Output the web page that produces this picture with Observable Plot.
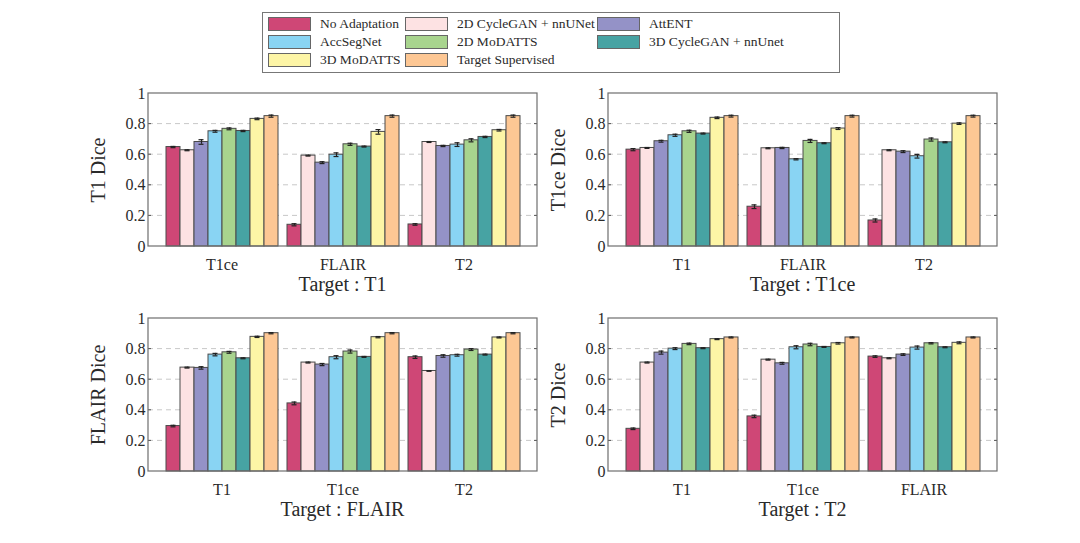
<!DOCTYPE html>
<html>
<head>
<meta charset="utf-8">
<script src="https://cdn.jsdelivr.net/npm/d3@7"></script>
<script src="https://cdn.jsdelivr.net/npm/@observablehq/plot@0.6"></script>
<style>
  html, body { margin: 0; padding: 0; background: #fff; }
  #root { position: relative; width: 1080px; height: 543px; overflow: hidden; font-family: "Liberation Serif", "DejaVu Serif", serif; color: #2a2a2a; }
  .panel { position: absolute; }
  .panel svg { display: block; }
  .panel svg g, .panel svg text { font-family: "Liberation Serif", serif !important; font-size: 16px !important; font-variant: normal !important; }
  .ylab { position: absolute; font-size: 20px; white-space: nowrap; transform: translate(-50%, -50%) rotate(-90deg); }
  .xlab { position: absolute; font-size: 20px; white-space: nowrap; transform: translate(-50%, -50%); }
  #legend { position: absolute; left: 262px; top: 12px; width: 576px; height: 59px; border: 1px solid #777; box-sizing: content-box; font-family: "Liberation Serif", serif; }
  .lg-item { position: absolute; display: flex; align-items: center; font-size: 13.5px; white-space: nowrap; font-family: "Liberation Serif", serif; }
  .lg-sw { width: 41px; height: 12px; border: 1px solid #666; margin-right: 9px; }
</style>
</head>
<body>
<div id="root"></div>
<script>
// ---- data ----
const methods = ["No Adaptation", "2D CycleGAN + nnUNet", "AttENT", "AccSegNet", "2D MoDATTS", "3D CycleGAN + nnUnet", "3D MoDATTS", "Target Supervised"];
const colors = ["#cf4776", "#fde2e3", "#9492c7", "#89d4f3", "#a8d48e", "#47a3a3", "#fdf5a6", "#fdc794"];
const yTicks = [0, 0.2, 0.4, 0.6, 0.8, 1];
const gridTicks = [0.2, 0.4, 0.6, 0.8];

// Target : T1
const t1Sources = ["T1ce", "FLAIR", "T2"];
const t1Values = [
  [0.650, 0.629, 0.683, 0.753, 0.769, 0.755, 0.834, 0.852],
  [0.142, 0.594, 0.548, 0.600, 0.668, 0.653, 0.749, 0.852],
  [0.144, 0.683, 0.657, 0.666, 0.694, 0.716, 0.760, 0.852]
];
const t1Errors = [
  [0.004, 0.003, 0.015, 0.006, 0.006, 0.004, 0.005, 0.007],
  [0.007, 0.003, 0.006, 0.012, 0.007, 0.003, 0.015, 0.007],
  [0.005, 0.003, 0.004, 0.012, 0.010, 0.004, 0.005, 0.007]
];

// Target : T1ce
const t1ceSources = ["T1", "FLAIR", "T2"];
const t1ceValues = [
  [0.633, 0.644, 0.688, 0.727, 0.753, 0.738, 0.841, 0.852],
  [0.260, 0.642, 0.644, 0.570, 0.690, 0.675, 0.771, 0.852],
  [0.170, 0.629, 0.620, 0.590, 0.699, 0.681, 0.803, 0.852]
];
const t1ceErrors = [
  [0.007, 0.003, 0.006, 0.007, 0.007, 0.003, 0.005, 0.006],
  [0.012, 0.003, 0.004, 0.004, 0.010, 0.003, 0.006, 0.006],
  [0.010, 0.003, 0.006, 0.012, 0.010, 0.003, 0.005, 0.006]
];

// Target : FLAIR
const flairSources = ["T1", "T1ce", "T2"];
const flairValues = [
  [0.297, 0.679, 0.677, 0.764, 0.779, 0.740, 0.880, 0.904],
  [0.445, 0.712, 0.699, 0.747, 0.784, 0.749, 0.878, 0.904],
  [0.747, 0.657, 0.755, 0.760, 0.797, 0.764, 0.876, 0.904]
];
const flairErrors = [
  [0.005, 0.003, 0.008, 0.008, 0.006, 0.003, 0.004, 0.004],
  [0.009, 0.003, 0.007, 0.010, 0.010, 0.003, 0.004, 0.004],
  [0.008, 0.002, 0.008, 0.006, 0.006, 0.003, 0.003, 0.004]
];

// Target : T2
const t2Sources = ["T1", "T1ce", "FLAIR"];
const t2Values = [
  [0.279, 0.712, 0.777, 0.803, 0.834, 0.806, 0.865, 0.876],
  [0.360, 0.731, 0.707, 0.812, 0.830, 0.814, 0.838, 0.876],
  [0.751, 0.740, 0.764, 0.810, 0.838, 0.812, 0.841, 0.876]
];
const t2Errors = [
  [0.005, 0.003, 0.010, 0.006, 0.005, 0.003, 0.003, 0.003],
  [0.008, 0.003, 0.006, 0.010, 0.008, 0.003, 0.005, 0.003],
  [0.005, 0.003, 0.005, 0.010, 0.004, 0.003, 0.006, 0.003]
];

const panels = [
  {target: "T1", sources: t1Sources, values: t1Values, errors: t1Errors, ylabel: "T1 Dice", left: 60, top: 80},
  {target: "T1ce", sources: t1ceSources, values: t1ceValues, errors: t1ceErrors, ylabel: "T1ce Dice", left: 520, top: 80},
  {target: "FLAIR", sources: flairSources, values: flairValues, errors: flairErrors, ylabel: "FLAIR Dice", left: 60, top: 305},
  {target: "T2", sources: t2Sources, values: t2Values, errors: t2Errors, ylabel: "T2 Dice", left: 520, top: 305}
];

// ---- layout ----
const ML = 88, MR = 8, MT = 13, MB = 30;
const PW = 389, PH = 153;
const W = ML + PW + MR, H = MT + PH + MB;
const PAD_OUTER = 0.13, PAD_INNER = 0.066;
// distance from frame edge to first facet, used for the y tick label padding
const outerPx = PW / (3 - PAD_INNER + 2 * PAD_OUTER) * PAD_OUTER;

const root = document.getElementById("root");

for (const p of panels) {
  const data = p.sources.flatMap((s, i) => methods.map((m, j) => ({
    source: s, method: m, value: p.values[i][j], err: p.errors[i][j]
  })));
  const plot = Plot.plot({
    width: W, height: H,
    marginLeft: ML, marginRight: MR, marginTop: MT, marginBottom: MB,
    style: {fontFamily: "'Liberation Serif', serif", fontSize: "16px", color: "#2a2a2a", background: "transparent", overflow: "visible"},
    fx: {domain: p.sources, paddingInner: PAD_INNER, paddingOuter: PAD_OUTER, axis: "bottom", label: null, tickSize: 0, tickPadding: 12},
    x: {domain: methods, padding: 0, axis: null},
    y: {domain: [0, 1], ticks: yTicks, tickFormat: d => String(d), tickSize: 0, tickPadding: Math.round(outerPx + 4), label: null},
    color: {domain: methods, range: colors},
    marks: [
      Plot.barY(data, {fx: "source", x: "method", y: "value", fill: "method", stroke: "#4a4a4a", strokeWidth: 1}),
      Plot.ruleX(data, {fx: "source", x: "method", y1: d => d.value - d.err, y2: d => d.value + d.err, stroke: "#222", strokeWidth: 1.2}),
      Plot.tickY(data, {fx: "source", x: "method", y: d => d.value + d.err, stroke: "#222", strokeWidth: 1.2, insetLeft: 4.5, insetRight: 4.5}),
      Plot.tickY(data, {fx: "source", x: "method", y: d => d.value - d.err, stroke: "#222", strokeWidth: 1.2, insetLeft: 4.5, insetRight: 4.5})
    ]
  });
  const yScale = plot.scale("y");
  const svg = d3.select(plot);
  // full-width dashed grid behind the bars (positions from Plot's y scale)
  const grid = svg.insert("g", "g").attr("class", "grid");
  grid.selectAll("line").data(gridTicks).join("line")
    .attr("x1", ML).attr("x2", W - MR)
    .attr("y1", d => yScale.apply(d)).attr("y2", d => yScale.apply(d))
    .attr("stroke", "#c8c8c8").attr("stroke-width", 1).attr("stroke-dasharray", "5,4");
  // inward ticks on both sides of the frame
  const ticks = svg.append("g").attr("class", "frame-ticks");
  ticks.selectAll("line.l").data(gridTicks).join("line").attr("class", "l")
    .attr("x1", ML).attr("x2", ML + 3)
    .attr("y1", d => yScale.apply(d)).attr("y2", d => yScale.apply(d))
    .attr("stroke", "#555").attr("stroke-width", 1);
  ticks.selectAll("line.r").data(gridTicks).join("line").attr("class", "r")
    .attr("x1", W - MR - 3).attr("x2", W - MR)
    .attr("y1", d => yScale.apply(d)).attr("y2", d => yScale.apply(d))
    .attr("stroke", "#555").attr("stroke-width", 1);
  // frame around the whole panel plotting area
  svg.append("rect")
    .attr("x", ML).attr("y", MT).attr("width", W - ML - MR).attr("height", H - MT - MB)
    .attr("fill", "none").attr("stroke", "#6e6e6e").attr("stroke-width", 1.2);

  const div = document.createElement("div");
  div.className = "panel";
  div.style.left = p.left + "px";
  div.style.top = p.top + "px";
  div.style.width = W + "px";
  div.style.height = "230px";
  div.appendChild(plot);

  const yl = document.createElement("div");
  yl.className = "ylab";
  yl.textContent = p.ylabel;
  yl.style.left = "38px";
  yl.style.top = (MT + PH / 2) + "px";
  div.appendChild(yl);

  const xl = document.createElement("div");
  xl.className = "xlab";
  xl.textContent = "Target : " + p.target;
  xl.style.left = (ML + PW / 2) + "px";
  xl.style.top = "204px";
  div.appendChild(xl);

  root.appendChild(div);
}

// ---- legend ----
const legend = document.createElement("div");
legend.id = "legend";
const colX = [5, 142, 334];
const rowY = [11, 29, 47];
methods.forEach((m, i) => {
  const col = i % 3, row = Math.floor(i / 3);
  const it = document.createElement("div");
  it.className = "lg-item";
  it.style.left = colX[col] + "px";
  it.style.top = (rowY[row] - 9) + "px";
  it.style.height = "18px";
  const sw = document.createElement("div");
  sw.className = "lg-sw";
  sw.style.background = colors[i];
  const tx = document.createElement("span");
  tx.textContent = m;
  it.appendChild(sw);
  it.appendChild(tx);
  legend.appendChild(it);
});
root.appendChild(legend);
</script>
</body>
</html>
